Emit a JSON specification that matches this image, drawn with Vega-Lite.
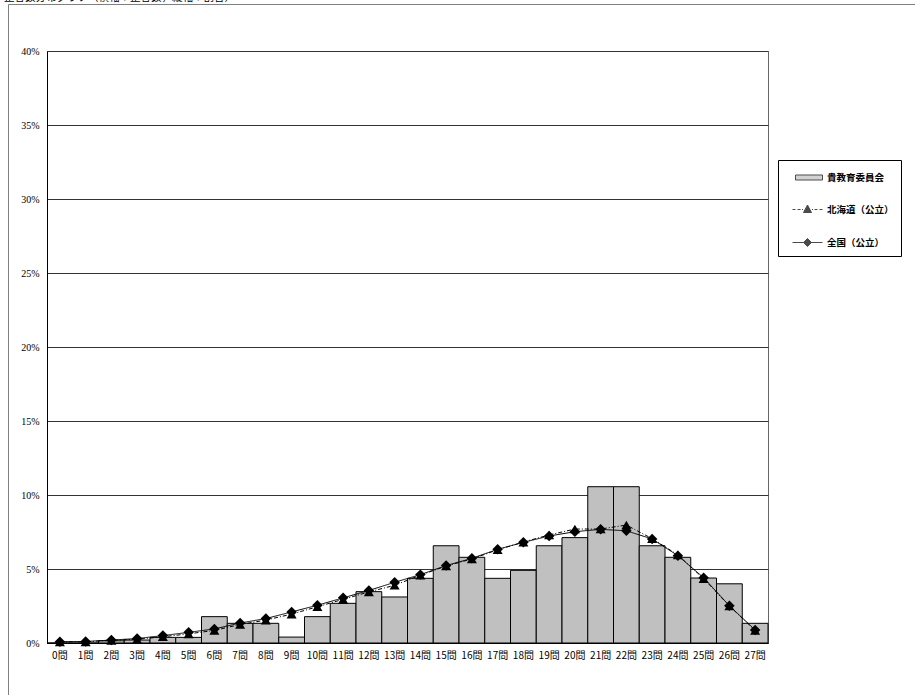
{
  "$schema": "https://vega.github.io/schema/vega-lite/v6.json",
  "width": 721,
  "height": 592,
  "autosize": "none",
  "padding": {"left": 47, "top": 51, "right": 147, "bottom": 52},
  "background": "white",
  "title": {
    "text": "正答数分布グラフ（横軸：正答数，縦軸：割合）",
    "anchor": "start",
    "frame": "group",
    "dx": -43,
    "dy": 0,
    "offset": 0,
    "fontSize": 10.5,
    "fontWeight": "normal",
    "font": "Noto Sans CJK JP",
    "color": "black"
  },
  "config": {
    "view": {"stroke": "#666", "strokeWidth": 1},
    "font": "Noto Sans CJK JP"
  },
  "data": {
    "values": [
      {"q": 0, "series": "貴教育委員会", "value": 0},
      {"q": 1, "series": "貴教育委員会", "value": 0},
      {"q": 2, "series": "貴教育委員会", "value": 0.15},
      {"q": 3, "series": "貴教育委員会", "value": 0.2},
      {"q": 4, "series": "貴教育委員会", "value": 0.38},
      {"q": 5, "series": "貴教育委員会", "value": 0.38},
      {"q": 6, "series": "貴教育委員会", "value": 1.78},
      {"q": 7, "series": "貴教育委員会", "value": 1.33},
      {"q": 8, "series": "貴教育委員会", "value": 1.33},
      {"q": 9, "series": "貴教育委員会", "value": 0.4},
      {"q": 10, "series": "貴教育委員会", "value": 1.78},
      {"q": 11, "series": "貴教育委員会", "value": 2.68},
      {"q": 12, "series": "貴教育委員会", "value": 3.47},
      {"q": 13, "series": "貴教育委員会", "value": 3.11},
      {"q": 14, "series": "貴教育委員会", "value": 4.37},
      {"q": 15, "series": "貴教育委員会", "value": 6.57},
      {"q": 16, "series": "貴教育委員会", "value": 5.79},
      {"q": 17, "series": "貴教育委員会", "value": 4.37},
      {"q": 18, "series": "貴教育委員会", "value": 4.91},
      {"q": 19, "series": "貴教育委員会", "value": 6.57},
      {"q": 20, "series": "貴教育委員会", "value": 7.12},
      {"q": 21, "series": "貴教育委員会", "value": 10.56},
      {"q": 22, "series": "貴教育委員会", "value": 10.56},
      {"q": 23, "series": "貴教育委員会", "value": 6.57},
      {"q": 24, "series": "貴教育委員会", "value": 5.79},
      {"q": 25, "series": "貴教育委員会", "value": 4.39},
      {"q": 26, "series": "貴教育委員会", "value": 4.0},
      {"q": 27, "series": "貴教育委員会", "value": 1.33},
      {"q": 0, "series": "北海道（公立）", "value": 0.08},
      {"q": 1, "series": "北海道（公立）", "value": 0.08},
      {"q": 2, "series": "北海道（公立）", "value": 0.18},
      {"q": 3, "series": "北海道（公立）", "value": 0.25},
      {"q": 4, "series": "北海道（公立）", "value": 0.42},
      {"q": 5, "series": "北海道（公立）", "value": 0.62},
      {"q": 6, "series": "北海道（公立）", "value": 0.85},
      {"q": 7, "series": "北海道（公立）", "value": 1.25},
      {"q": 8, "series": "北海道（公立）", "value": 1.55},
      {"q": 9, "series": "北海道（公立）", "value": 1.95},
      {"q": 10, "series": "北海道（公立）", "value": 2.45},
      {"q": 11, "series": "北海道（公立）", "value": 2.95},
      {"q": 12, "series": "北海道（公立）", "value": 3.45},
      {"q": 13, "series": "北海道（公立）", "value": 3.9},
      {"q": 14, "series": "北海道（公立）", "value": 4.58},
      {"q": 15, "series": "北海道（公立）", "value": 5.2},
      {"q": 16, "series": "北海道（公立）", "value": 5.68},
      {"q": 17, "series": "北海道（公立）", "value": 6.3},
      {"q": 18, "series": "北海道（公立）", "value": 6.82},
      {"q": 19, "series": "北海道（公立）", "value": 7.3},
      {"q": 20, "series": "北海道（公立）", "value": 7.7},
      {"q": 21, "series": "北海道（公立）", "value": 7.7},
      {"q": 22, "series": "北海道（公立）", "value": 7.97},
      {"q": 23, "series": "北海道（公立）", "value": 7.05},
      {"q": 24, "series": "北海道（公立）", "value": 5.95},
      {"q": 25, "series": "北海道（公立）", "value": 4.35},
      {"q": 26, "series": "北海道（公立）", "value": 2.5},
      {"q": 27, "series": "北海道（公立）", "value": 0.85},
      {"q": 0, "series": "全国（公立）", "value": 0.09},
      {"q": 1, "series": "全国（公立）", "value": 0.1},
      {"q": 2, "series": "全国（公立）", "value": 0.2},
      {"q": 3, "series": "全国（公立）", "value": 0.3},
      {"q": 4, "series": "全国（公立）", "value": 0.5},
      {"q": 5, "series": "全国（公立）", "value": 0.72},
      {"q": 6, "series": "全国（公立）", "value": 0.95},
      {"q": 7, "series": "全国（公立）", "value": 1.35},
      {"q": 8, "series": "全国（公立）", "value": 1.65},
      {"q": 9, "series": "全国（公立）", "value": 2.1},
      {"q": 10, "series": "全国（公立）", "value": 2.55},
      {"q": 11, "series": "全国（公立）", "value": 3.05},
      {"q": 12, "series": "全国（公立）", "value": 3.55},
      {"q": 13, "series": "全国（公立）", "value": 4.1},
      {"q": 14, "series": "全国（公立）", "value": 4.62},
      {"q": 15, "series": "全国（公立）", "value": 5.23},
      {"q": 16, "series": "全国（公立）", "value": 5.72},
      {"q": 17, "series": "全国（公立）", "value": 6.33},
      {"q": 18, "series": "全国（公立）", "value": 6.8},
      {"q": 19, "series": "全国（公立）", "value": 7.23},
      {"q": 20, "series": "全国（公立）", "value": 7.52},
      {"q": 21, "series": "全国（公立）", "value": 7.68},
      {"q": 22, "series": "全国（公立）", "value": 7.58},
      {"q": 23, "series": "全国（公立）", "value": 7.03},
      {"q": 24, "series": "全国（公立）", "value": 5.9},
      {"q": 25, "series": "全国（公立）", "value": 4.41},
      {"q": 26, "series": "全国（公立）", "value": 2.52},
      {"q": 27, "series": "全国（公立）", "value": 0.88}
    ]
  },
  "encoding": {
    "x": {
      "field": "q",
      "type": "ordinal",
      "scale": {"paddingInner": 0, "paddingOuter": 0},
      "axis": {
        "title": null,
        "labelAngle": 0,
        "ticks": false,
        "grid": false,
        "domainColor": "black",
        "labelPadding": 7,
        "labelFontSize": 10,
        "labelColor": "black",
        "labelFont": "Noto Sans CJK JP",
        "labelExpr": "datum.value + '問'"
      }
    },
    "y": {
      "field": "value",
      "type": "quantitative",
      "scale": {"domain": [0, 40], "nice": false},
      "axis": {
        "title": null,
        "values": [0, 5, 10, 15, 20, 25, 30, 35, 40],
        "labelExpr": "datum.value + '%'",
        "grid": true,
        "gridColor": "#333",
        "gridOpacity": 1,
        "ticks": false,
        "domainColor": "black",
        "labelPadding": 8,
        "labelFontSize": 10,
        "labelColor": "black",
        "labelFont": "Liberation Sans Narrow"
      }
    }
  },
  "layer": [
    {
      "transform": [{"filter": "datum.series === '貴教育委員会'"}],
      "mark": {"type": "bar", "fill": "#c0c0c0", "stroke": "black", "strokeWidth": 1, "opacity": 1}
    },
    {
      "transform": [{"filter": "datum.series !== '貴教育委員会'"}],
      "mark": {"type": "line", "color": "black", "strokeWidth": 1},
      "encoding": {
        "strokeDash": {
          "field": "series",
          "type": "nominal",
          "scale": {"domain": ["北海道（公立）", "全国（公立）"], "range": [[4, 2, 1, 2], [1, 0]]},
          "legend": {
            "orient": "none",
            "legendX": -39,
            "legendY": -47,
            "title": null,
            "values": ["全国（公立）"],
            "labelExpr": "''",
            "symbolOpacity": 0,
            "symbolSize": 1,
            "symbolStrokeColor": "transparent",
            "padding": 460,
            "strokeColor": "#808080",
            "fillColor": "transparent"
          }
        }
      }
    },
    {
      "transform": [{"filter": "datum.series === '北海道（公立）'"}],
      "mark": {"type": "point", "shape": "triangle-up", "filled": true, "color": "black", "size": 100, "opacity": 1}
    },
    {
      "transform": [{"filter": "datum.series === '全国（公立）'"}],
      "mark": {"type": "point", "shape": "diamond", "filled": true, "color": "black", "size": 110, "opacity": 1}
    },
    {
      "transform": [{"filter": "datum.value < 0"}],
      "mark": {"type": "point", "filled": true, "stroke": "black", "strokeWidth": 1},
      "encoding": {
        "color": {
          "field": "series",
          "type": "nominal",
          "scale": {"domain": ["貴教育委員会", "北海道（公立）", "全国（公立）"], "range": ["#c0c0c0", "black", "black"]},
          "legend": {
            "orient": "none",
            "legendX": 731,
            "legendY": 109,
            "title": null,
            "symbolSize": 400,
            "symbolOffset": 12,
            "symbolStrokeWidth": 1,
            "symbolStrokeColor": "black",
            "labelOffset": 9,
            "labelFontSize": 9.5,
            "labelFontWeight": "bold",
            "labelFont": "Noto Sans CJK JP",
            "labelColor": "black",
            "rowPadding": 17,
            "padding": 7,
            "strokeColor": "black",
            "fillColor": "white"
          }
        },
        "shape": {
          "field": "series",
          "type": "nominal",
          "scale": {
            "domain": ["貴教育委員会", "北海道（公立）", "全国（公立）"],
            "range": [
              "M-1.2,-0.25H1.5V0.25H-1.2Z",
              "M-1.5,0H-1.2M-1,0H-0.7M-0.55,0H-0.45M0.45,0H0.55M0.7,0H1M1.2,0H1.5M-0.4,0.3L0,-0.45L0.4,0.3Z",
              "M-1.5,0H1.5M0,-0.4L0.4,0L0,0.4L-0.4,0Z"
            ]
          },
          "legend": {
            "orient": "none",
            "legendX": 731,
            "legendY": 109,
            "title": null,
            "symbolSize": 400,
            "symbolOffset": 12,
            "symbolStrokeWidth": 1,
            "symbolStrokeColor": "black",
            "labelOffset": 9,
            "labelFontSize": 9.5,
            "labelFontWeight": "bold",
            "labelFont": "Noto Sans CJK JP",
            "labelColor": "black",
            "rowPadding": 17,
            "padding": 7,
            "strokeColor": "black",
            "fillColor": "white"
          }
        }
      }
    }
  ]
}
